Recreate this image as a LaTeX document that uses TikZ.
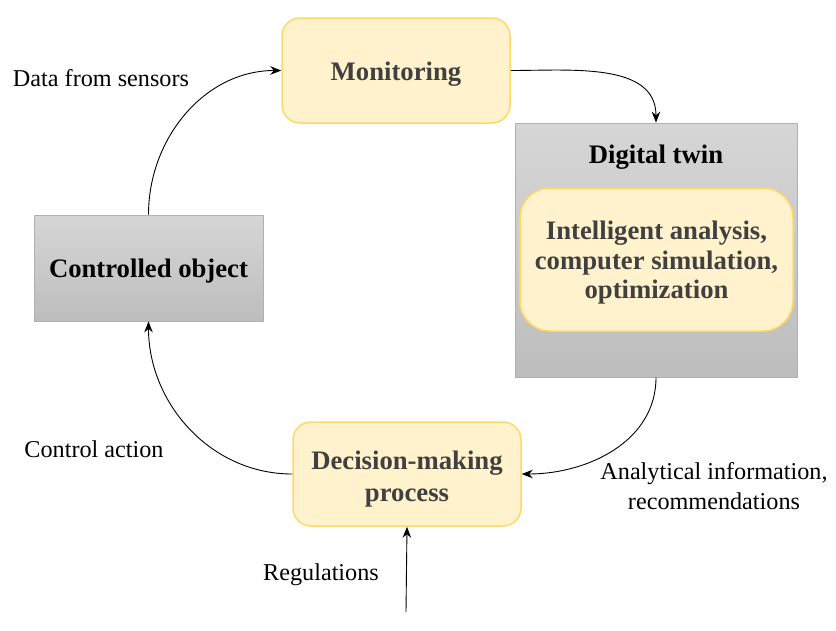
\documentclass[tikz,border=0pt]{standalone}
\usepackage{fontspec}
\setmainfont{LiberationSerif}[Extension=.ttf, UprightFont=*-Regular, BoldFont=*-Bold, ItalicFont=*-Italic, BoldItalicFont=*-BoldItalic]
\usetikzlibrary{arrows.meta}
\definecolor{yfill}{HTML}{FFF2CC}
\definecolor{ydraw}{HTML}{FFD966}
\definecolor{gtop}{HTML}{D6D6D6}
\definecolor{gbot}{HTML}{BDBDBD}
\definecolor{gdraw}{HTML}{B0B0B0}
\definecolor{txt}{HTML}{404040}
\tikzset{
  ybox/.style={draw=ydraw, line width=1.5pt, fill=yfill, rounded corners=18pt, inner sep=0pt},
  gbox/.style={draw=gdraw, line width=0.8pt, top color=gtop, bottom color=gbot, inner sep=0pt},
  ytxt/.style={font=\fontsize{26.7}{29.5}\selectfont\bfseries, text=txt, align=center},
  gtxt/.style={font=\fontsize{26.7}{29.5}\selectfont\bfseries, text=black, align=center},
  lbl/.style={font=\fontsize{24.2}{30}\selectfont, align=center, text=black},
  conn/.style={draw=black, line width=0.9pt, -{Stealth[length=11pt,width=8.5pt]}},
}
\begin{document}
\begin{tikzpicture}[x=1pt,y=-1pt]
\useasboundingbox (0,0) rectangle (836,630);
% boxes
\node[ybox, minimum width=228pt, minimum height=105pt] (mon) at (396,70.5) {};
\node[ytxt] (mont) at (396,74) {Monitoring};
\node[gbox, minimum width=282pt, minimum height=254pt] (dt) at (656,250) {};
\node[gtxt] (dtl) at (656,157) {Digital twin};
\node[ybox, rounded corners=30pt, minimum width=273pt, minimum height=143pt] (ia) at (656.5,259.5) {};
\node[ytxt] (iat) at (656.5,263) {Intelligent analysis,\\computer simulation,\\optimization};
\node[gbox, minimum width=229pt, minimum height=106pt] (co) at (148.5,268) {};
\node[gtxt] (cot) at (148.5,271) {Controlled object};
\node[ybox, minimum width=228pt, minimum height=104pt] (dm) at (407,474) {};
\node[ytxt, font=\fontsize{26.7}{32}\selectfont\bfseries] (dmt) at (407,479) {Decision-making\\process};
\coordinate (reg) at (406,612);
% labels
\node[lbl] (l1) at (101,78) {Data from sensors};
\node[lbl] (l2) at (94,449) {Control action};
\node[lbl] (l3) at (714,486) {Analytical information,\\recommendations};
\node[lbl] (l4) at (321,575) {Regulations};
% connectors
\draw[conn] (co.north) to[out=90,in=180] (mon.west);
\draw[conn] (mon.east) to[out=0,in=90] (dt.north);
\draw[conn] (dt.south) to[out=-90,in=0] (dm.east);
\draw[conn] (dm.west) to[out=180,in=-90] (co.south);
\draw[conn] (reg) -- (dm.south);
\end{tikzpicture}
\end{document}
